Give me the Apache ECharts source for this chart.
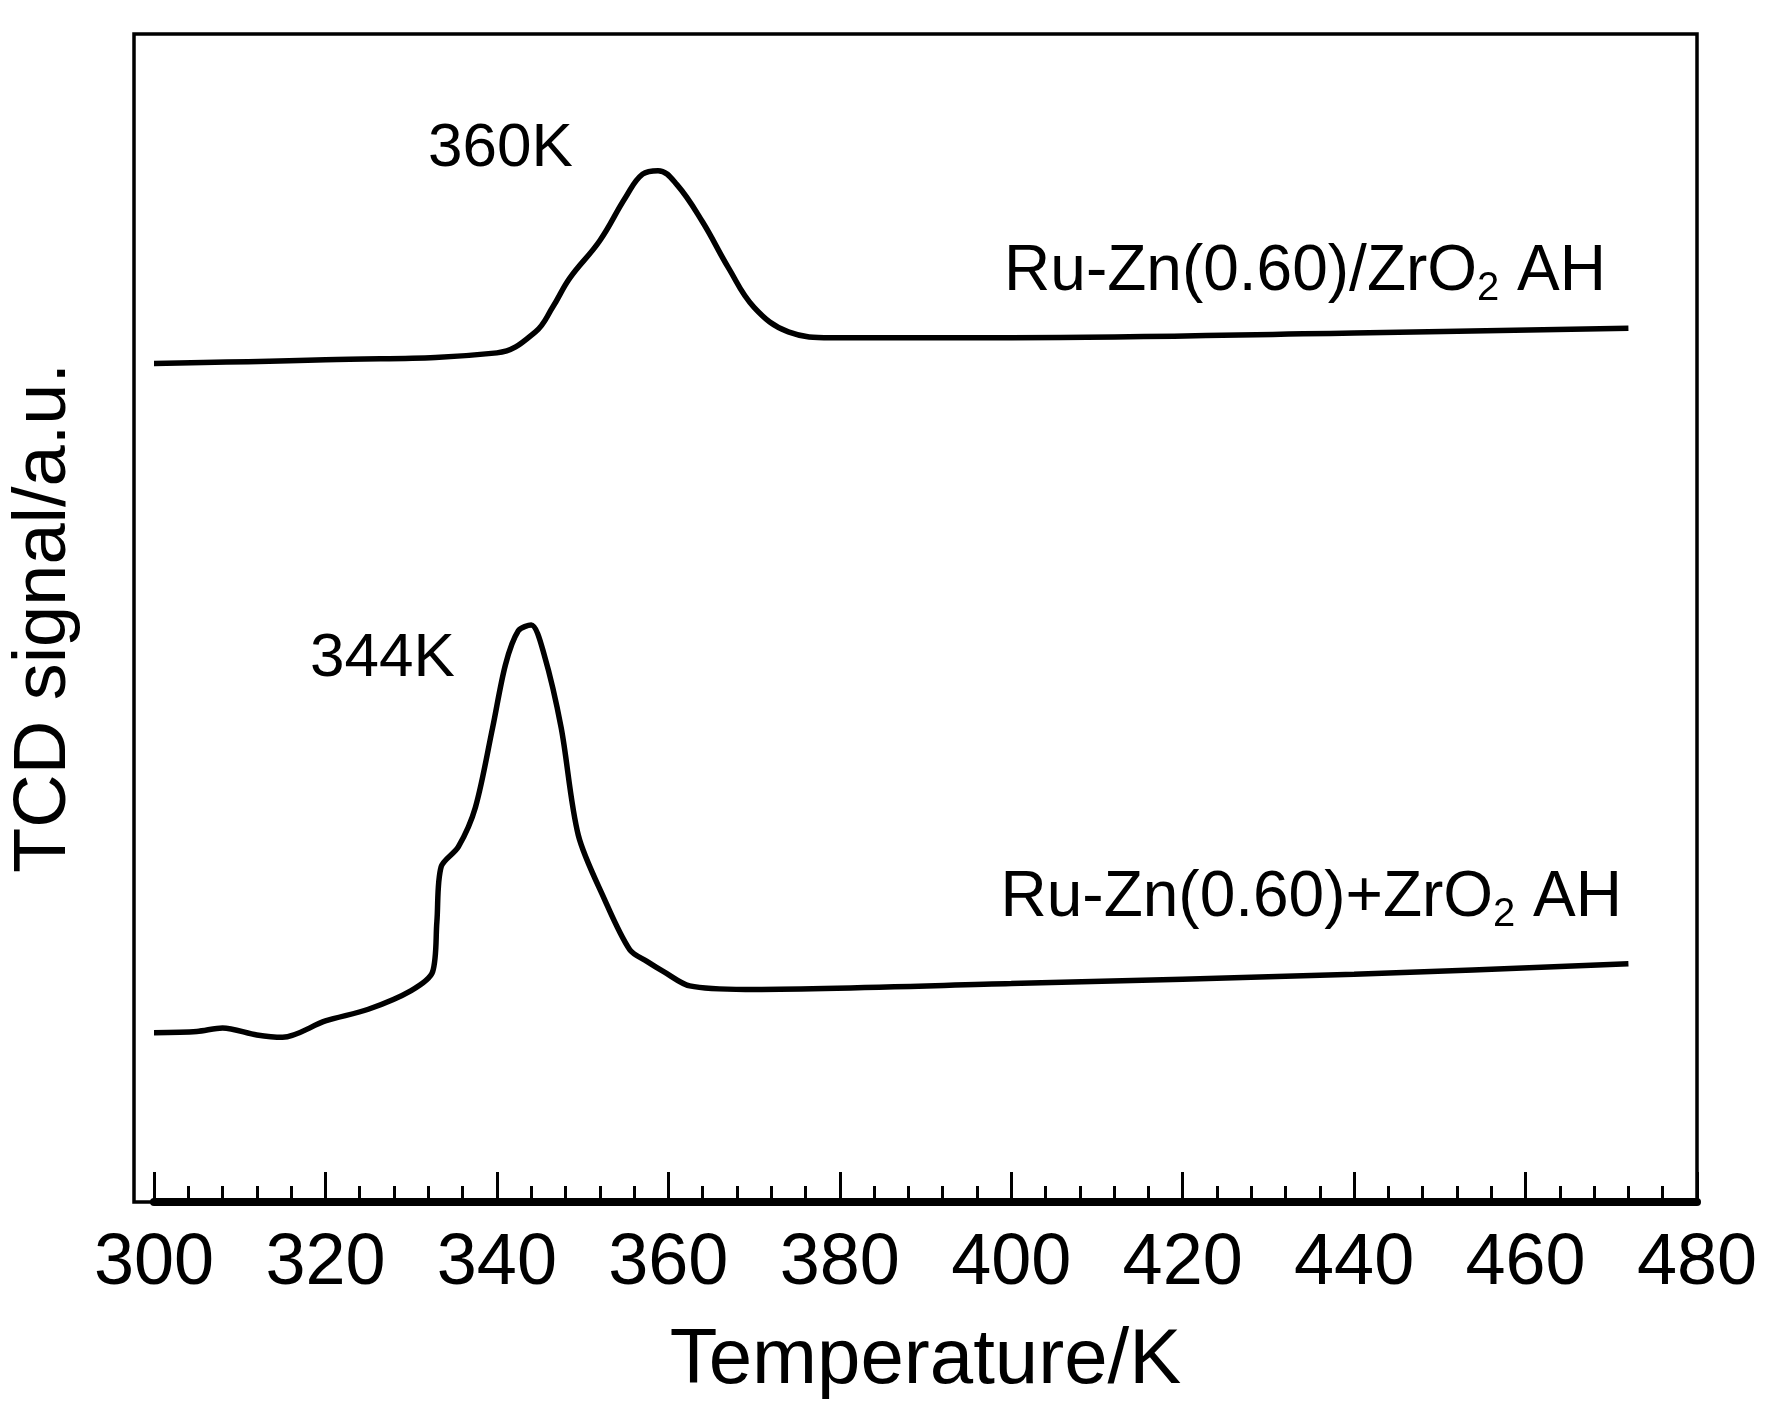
<!DOCTYPE html><html><head><meta charset="utf-8">
<script src="https://cdn.jsdelivr.net/npm/echarts@6/dist/echarts.min.js"></script>
<style>html,body{margin:0;background:#fff}#c{width:1774px;height:1416px}</style></head><body><div id="c"></div>
<script>
const tempTop=[300,320,340,344.5,346.5,348.5,352,355,357,358.8,361,364,367,370,374,379,400,440,472];
const sigTop=[71.8,72.1,72.7,74.5,76.6,79.1,82.3,86,88,88.3,87.1,83.9,80,76.6,74.5,74,74,74.4,74.8];
const tempBot=[300,305,308,312,315,320,325,330,332.5,333,333.5,335.5,337.5,339.5,341,342.5,344,345.5,347.5,349.5,352.5,355.5,357.5,359.5,362.5,369,400,440,472];
const sigBot=[14.5,14.6,14.9,14.3,14.1,15.5,16.5,18.1,19.7,24,28.7,30.4,33.8,40.6,46,48.9,49.4,46.9,40.6,31.4,26,21.6,20.6,19.7,18.5,18.2,18.7,19.5,20.4];
const xTicks=[300,320,340,360,380,400,420,440,460,480];
const F='"Liberation Sans Narrow","Arial Narrow","Liberation Sans",Arial,sans-serif';
const z=(a,b)=>a.map((v,i)=>[v,b[i]]);
const ch=echarts.init(document.getElementById('c'));
const lineS={color:'#000',width:5.5};
const rich={a:{font:'64px '+F,fill:'#000'},s:{font:'40px '+F,fill:'#000',padding:[34,0,0,0]}};
ch.setOption({
 animation:false,
 grid:{left:134,right:77,top:34,bottom:214},
 xAxis:{type:'value',min:300,max:480,interval:20,
  name:'Temperature/K',nameLocation:'middle',nameGap:120,nameTextStyle:{fontFamily:F,fontSize:78,color:'#000'},
  axisLine:{lineStyle:{color:'#000',width:8}},
  axisTick:{inside:true,length:30,lineStyle:{color:'#000',width:3}},
  minorTick:{show:true,splitNumber:5,length:16,lineStyle:{color:'#000',width:3}},
  axisLabel:{fontFamily:F,fontSize:72,color:'#000',margin:26,formatter:v=>xTicks.includes(v)?String(v):''},
  splitLine:{show:false}},
 yAxis:{type:'value',min:0,max:100,
  name:'TCD signal/a.u.',nameLocation:'middle',nameGap:72,nameTextStyle:{fontFamily:F,fontSize:74,color:'#000'},
  axisLine:{show:false},axisTick:{show:false},axisLabel:{show:false},splitLine:{show:false}},
 graphic:[
  {type:'rect',shape:{x:134,y:34,width:1563,height:1168},style:{fill:'none',stroke:'#000',lineWidth:3.5},silent:true},
  {type:'text',left:428,top:118,style:{text:'360K',font:'62px '+F,fill:'#000'}},
  {type:'text',left:310,top:628,style:{text:'344K',font:'62px '+F,fill:'#000'}},
  {type:'text',right:168,top:240,style:{text:'{a|Ru-Zn(0.60)/ZrO}{s|2}{a| AH}',rich}},
  {type:'text',right:152,top:866,style:{text:'{a|Ru-Zn(0.60)+ZrO}{s|2}{a| AH}',rich}}
 ],
 series:[
  {type:'line',data:z(tempTop,sigTop),symbol:'none',smooth:0.4,lineStyle:lineS},
  {type:'line',data:z(tempBot,sigBot),symbol:'none',smooth:0.3,lineStyle:lineS}
 ]
});
</script></body></html>
